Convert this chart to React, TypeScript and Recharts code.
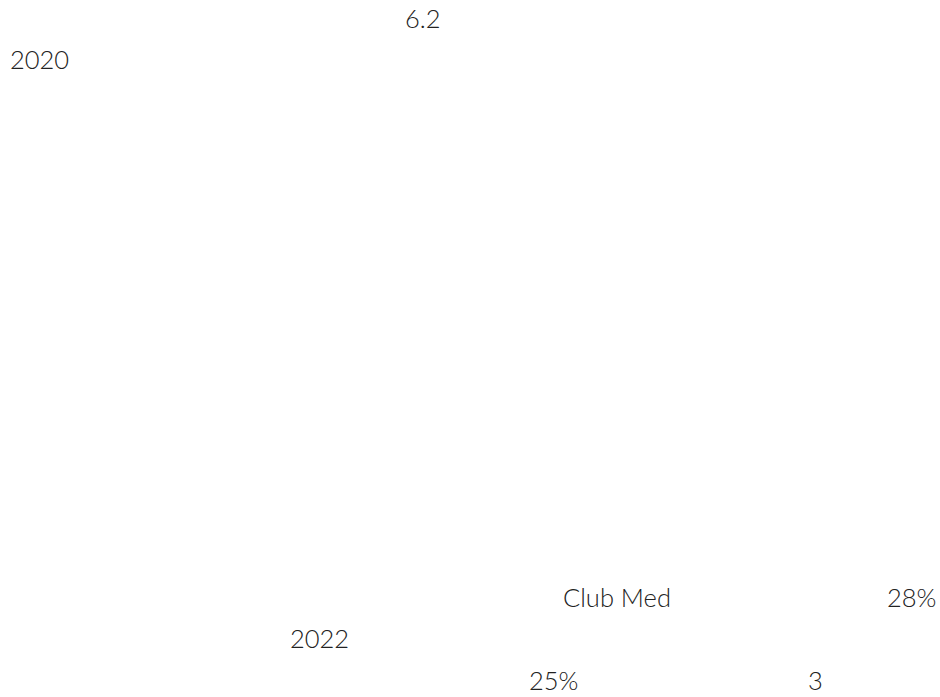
import React from "react";
import { ComposedChart, Customized, Text } from "recharts";

// Visible text fragments of the reference (the rest of the paragraph is blank)
const fragments: string[] = ["6.2", "2020", "Club Med", "28%", "2022", "25%", "3"];
// Which line of the paragraph each fragment sits on
const fragmentLines: number[] = [0, 1, 14, 14, 15, 16, 16];

// Layout (kept apart from the content)
const fragmentX: number[] = [405, 10, 563, 887, 290, 529, 808];
const FIRST_BASELINE = 28;
const LINE_HEIGHT = 41.35;
const FONT_SIZE = 25.5;

const TextLayer = () => (
  <g>
    {fragments.map((t, i) => (
      <Text
        key={i}
        x={fragmentX[i]}
        y={FIRST_BASELINE + fragmentLines[i] * LINE_HEIGHT}
        textAnchor="start"
        verticalAnchor="end"
        fontSize={FONT_SIZE}
        fontFamily="Lato, 'Open Sans', sans-serif"
        fontWeight={300}
        fill="#222"
      >
        {t}
      </Text>
    ))}
  </g>
);

export default function App() {
  return (
    <div style={{ position: "absolute", left: 0, top: 0, width: 940, height: 697, background: "#fff" }}>
      <ComposedChart width={940} height={697} data={[]} margin={{ top: 0, right: 0, bottom: 0, left: 0 }}>
        <Customized component={TextLayer} />
      </ComposedChart>
    </div>
  );
}
